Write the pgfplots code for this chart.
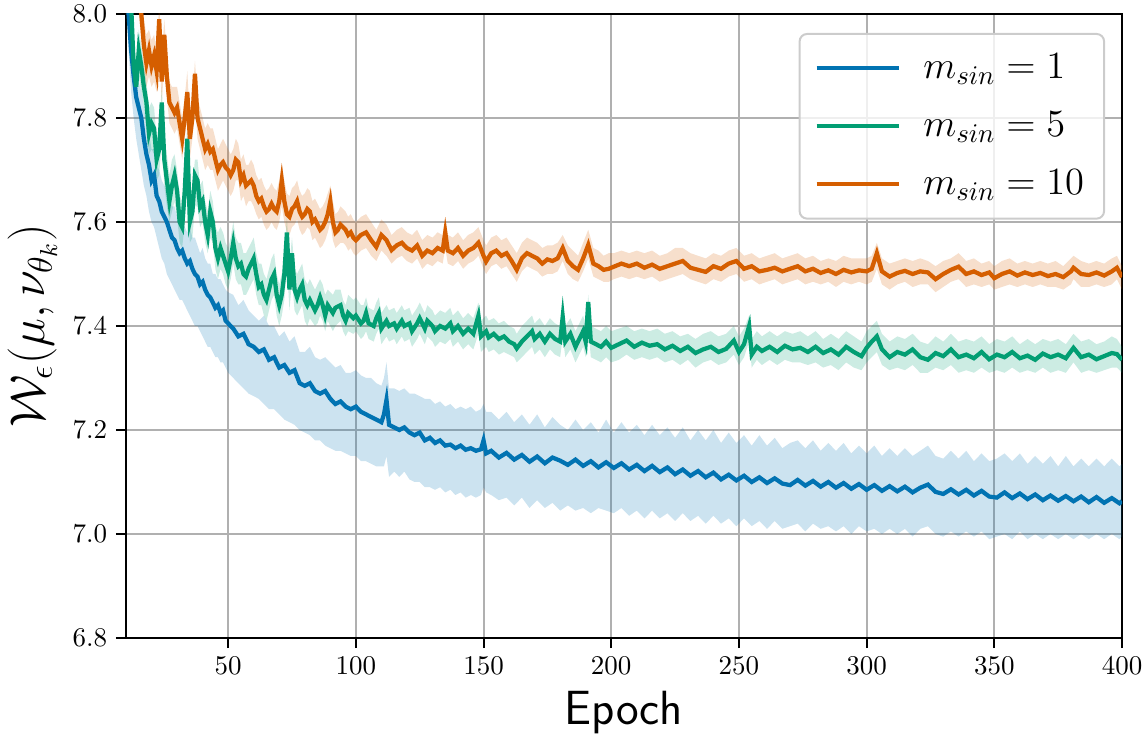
\RequirePackage{fix-cm}
\documentclass[border=0pt]{standalone}
\usepackage{pgfplots}
\pgfplotsset{compat=1.18}
\usepackage{pgfplotstable}
\usepgfplotslibrary{fillbetween}
\definecolor{cblue}{HTML}{0173B2}
\definecolor{cgreen}{HTML}{029E73}
\definecolor{corange}{HTML}{D55E00}
\definecolor{gridgray}{HTML}{B0B0B0}

\pgfplotstableread{
x m lo hi
10 8.12 8.05 8.16
11 8.00 7.93 8.05
12 7.93 7.85 7.98
13 7.88 7.80 7.93
14 7.84 7.76 7.90
15 7.82 7.73 7.87
16 7.80 7.70 7.85
17 7.76 7.67 7.82
18 7.73 7.65 7.79
19 7.71 7.62 7.77
20 7.68 7.60 7.74
21 7.69 7.59 7.74
22 7.65 7.57 7.71
23 7.64 7.55 7.70
24 7.62 7.53 7.68
25 7.61 7.52 7.67
26 7.60 7.50 7.66
27 7.585 7.49 7.65
28 7.57 7.48 7.63
29 7.565 7.47 7.63
30 7.55 7.46 7.61
31 7.54 7.45 7.60
32 7.545 7.45 7.61
33 7.53 7.44 7.59
34 7.52 7.43 7.58
35 7.525 7.42 7.59
36 7.51 7.41 7.57
37 7.50 7.40 7.57
38 7.495 7.40 7.555
39 7.48 7.39 7.54
40 7.485 7.38 7.55
41 7.47 7.37 7.53
42 7.46 7.36 7.52
43 7.455 7.36 7.52
44 7.445 7.35 7.50
45 7.435 7.34 7.50
46 7.44 7.34 7.49
47 7.425 7.33 7.49
48 7.43 7.33 7.48
49 7.41 7.32 7.47
50 7.405 7.31 7.465
52 7.395 7.30 7.46
54 7.38 7.29 7.44
56 7.385 7.28 7.45
58 7.365 7.27 7.43
60 7.36 7.265 7.42
62 7.35 7.26 7.41
64 7.355 7.25 7.42
66 7.335 7.24 7.40
68 7.34 7.24 7.40
70 7.32 7.23 7.38
72 7.325 7.22 7.39
74 7.31 7.215 7.37
76 7.315 7.21 7.38
78 7.29 7.20 7.35
80 7.285 7.195 7.35
82 7.29 7.19 7.36
84 7.275 7.18 7.34
86 7.27 7.18 7.335
88 7.275 7.17 7.34
90 7.26 7.165 7.33
92 7.25 7.16 7.32
94 7.255 7.16 7.325
96 7.245 7.155 7.31
98 7.24 7.15 7.31
100 7.245 7.15 7.315
102 7.235 7.14 7.305
104 7.23 7.14 7.30
106 7.225 7.135 7.30
108 7.22 7.13 7.29
110 7.215 7.13 7.285
111 7.23 7.13 7.30
112 7.258 7.15 7.33
113 7.21 7.11 7.28
115 7.205 7.12 7.28
117 7.20 7.11 7.275
119 7.205 7.12 7.28
121 7.195 7.105 7.27
123 7.19 7.10 7.27
125 7.195 7.10 7.265
127 7.18 7.09 7.26
129 7.185 7.09 7.26
131 7.175 7.085 7.25
133 7.18 7.09 7.255
135 7.17 7.08 7.245
137 7.172 7.085 7.25
139 7.165 7.075 7.24
141 7.17 7.08 7.245
143 7.162 7.07 7.24
145 7.165 7.075 7.245
147 7.16 7.07 7.235
149 7.163 7.075 7.24
150 7.18 7.09 7.25
151 7.155 7.08 7.235
153 7.160 7.075 7.235
156 7.147 7.065 7.22
159 7.156 7.07 7.235
162 7.143 7.055 7.215
165 7.152 7.07 7.23
168 7.139 7.05 7.21
171 7.149 7.065 7.23
174 7.136 7.05 7.205
177 7.147 7.06 7.225
180 7.141 7.045 7.21
183 7.133 7.055 7.20
186 7.143 7.045 7.22
189 7.131 7.05 7.20
192 7.140 7.04 7.215
195 7.128 7.05 7.195
198 7.138 7.045 7.22
201 7.127 7.04 7.195
204 7.136 7.05 7.215
207 7.124 7.035 7.195
210 7.133 7.045 7.21
213 7.121 7.03 7.19
216 7.131 7.045 7.21
219 7.119 7.03 7.19
222 7.128 7.04 7.205
225 7.115 7.025 7.185
228 7.124 7.04 7.205
231 7.112 7.025 7.18
234 7.121 7.035 7.20
237 7.109 7.02 7.18
240 7.118 7.035 7.20
243 7.105 7.02 7.175
246 7.114 7.03 7.195
249 7.103 7.015 7.175
252 7.112 7.03 7.19
255 7.100 7.015 7.17
258 7.109 7.025 7.19
261 7.098 7.01 7.17
264 7.107 7.025 7.185
267 7.097 7.01 7.165
270 7.094 7.015 7.175
273 7.104 7.02 7.18
276 7.093 7.005 7.165
279 7.102 7.02 7.18
282 7.091 7.01 7.16
285 7.100 7.015 7.175
288 7.089 7.005 7.16
291 7.098 7.015 7.175
294 7.087 7.00 7.155
297 7.096 7.015 7.17
300 7.085 7.005 7.155
303 7.094 7.01 7.17
306 7.083 7.00 7.15
309 7.092 7.01 7.165
312 7.082 7.00 7.15
315 7.091 7.01 7.165
318 7.080 6.995 7.15
321 7.089 7.01 7.16
324 7.095 7.015 7.17
327 7.081 7.00 7.15
330 7.077 6.995 7.145
333 7.086 7.005 7.16
336 7.076 6.995 7.145
339 7.085 7.005 7.16
342 7.074 6.995 7.14
345 7.083 7.005 7.155
348 7.072 6.99 7.14
351 7.070 6.995 7.145
354 7.080 7.00 7.155
357 7.069 6.99 7.14
360 7.078 7.005 7.155
363 7.067 6.99 7.135
366 7.076 7.00 7.15
369 7.065 6.99 7.135
372 7.074 7.00 7.15
375 7.064 6.99 7.13
378 7.073 7.00 7.15
381 7.063 6.99 7.13
384 7.072 7.00 7.145
387 7.061 6.99 7.13
390 7.071 7.00 7.145
393 7.060 6.99 7.13
396 7.069 7.00 7.145
399 7.059 6.99 7.13
400 7.063 6.995 7.135
}\tblue

\pgfplotstableread{
x m lo hi
10 8.18 8.12 8.24
11 8.10 8.04 8.16
12 8.02 7.96 8.08
13 7.90 7.85 7.95
14 7.86 7.82 7.91
15 7.93 7.88 7.97
16 7.90 7.85 7.94
17 7.86 7.82 7.90
18 7.83 7.78 7.87
19 7.77 7.73 7.82
20 7.79 7.74 7.83
21 7.78 7.73 7.82
22 7.72 7.68 7.76
23 7.74 7.69 7.78
24 7.83 7.76 7.86
25 7.72 7.67 7.76
26 7.68 7.63 7.73
27 7.64 7.60 7.69
28 7.67 7.62 7.72
29 7.69 7.64 7.73
30 7.66 7.61 7.70
31 7.60 7.56 7.65
32 7.59 7.55 7.64
33 7.66 7.60 7.70
34 7.76 7.68 7.79
35 7.60 7.56 7.65
36 7.62 7.57 7.67
37 7.69 7.63 7.72
38 7.68 7.63 7.72
39 7.63 7.59 7.67
40 7.64 7.60 7.68
41 7.60 7.56 7.64
42 7.575 7.54 7.62
43 7.62 7.57 7.66
44 7.60 7.56 7.64
45 7.55 7.51 7.59
46 7.53 7.49 7.58
47 7.55 7.51 7.59
48 7.535 7.50 7.58
49 7.52 7.48 7.56
50 7.505 7.47 7.55
51 7.53 7.49 7.57
52 7.56 7.52 7.60
53 7.53 7.49 7.57
54 7.515 7.48 7.56
55 7.52 7.48 7.56
56 7.50 7.46 7.54
57 7.495 7.46 7.54
58 7.51 7.47 7.55
59 7.52 7.48 7.56
60 7.53 7.49 7.57
61 7.50 7.46 7.54
62 7.475 7.44 7.52
63 7.48 7.44 7.52
64 7.46 7.42 7.50
65 7.45 7.41 7.49
66 7.47 7.43 7.51
67 7.49 7.45 7.53
68 7.50 7.46 7.54
69 7.46 7.42 7.50
70 7.44 7.40 7.48
71 7.46 7.42 7.50
72 7.50 7.45 7.54
73 7.58 7.52 7.61
74 7.47 7.43 7.52
75 7.54 7.49 7.57
76 7.47 7.43 7.51
77 7.455 7.42 7.50
78 7.47 7.43 7.51
79 7.48 7.44 7.52
80 7.45 7.41 7.49
81 7.44 7.40 7.48
82 7.45 7.415 7.49
84 7.43 7.40 7.47
85 7.44 7.405 7.48
86 7.455 7.42 7.49
87 7.44 7.41 7.48
88 7.42 7.39 7.46
89 7.44 7.41 7.47
91 7.425 7.39 7.46
92 7.435 7.40 7.47
94 7.44 7.41 7.47
95 7.42 7.39 7.45
96 7.41 7.38 7.44
97 7.425 7.39 7.46
99 7.415 7.385 7.45
100 7.42 7.39 7.455
102 7.405 7.375 7.44
103 7.41 7.38 7.44
104 7.425 7.39 7.455
105 7.405 7.375 7.435
107 7.40 7.37 7.43
108 7.415 7.385 7.445
109 7.425 7.395 7.455
110 7.395 7.365 7.425
112 7.41 7.38 7.44
113 7.40 7.37 7.43
115 7.405 7.375 7.435
116 7.395 7.365 7.425
118 7.41 7.38 7.44
119 7.40 7.37 7.43
121 7.405 7.375 7.435
122 7.39 7.36 7.42
124 7.405 7.375 7.435
125 7.415 7.385 7.445
127 7.395 7.365 7.425
128 7.41 7.38 7.44
130 7.40 7.37 7.43
131 7.39 7.36 7.42
133 7.40 7.37 7.43
135 7.395 7.365 7.425
137 7.405 7.375 7.435
138 7.39 7.36 7.42
140 7.40 7.37 7.43
142 7.385 7.355 7.415
144 7.395 7.365 7.425
146 7.385 7.355 7.415
148 7.42 7.385 7.445
149 7.38 7.35 7.41
151 7.39 7.36 7.42
152 7.378 7.35 7.41
154 7.385 7.355 7.415
156 7.375 7.345 7.405
158 7.38 7.35 7.41
160 7.37 7.345 7.40
162 7.365 7.34 7.395
163 7.357 7.33 7.385
165 7.37 7.34 7.40
167 7.38 7.35 7.41
169 7.39 7.36 7.42
170 7.375 7.345 7.405
172 7.385 7.355 7.415
174 7.37 7.34 7.40
176 7.385 7.355 7.415
178 7.375 7.345 7.405
180 7.37 7.34 7.40
181 7.418 7.38 7.44
182 7.37 7.34 7.40
184 7.385 7.355 7.415
186 7.36 7.33 7.39
188 7.38 7.35 7.41
189 7.39 7.36 7.42
190 7.37 7.34 7.40
191 7.446 7.40 7.46
192 7.37 7.34 7.40
194 7.365 7.335 7.395
196 7.36 7.33 7.39
198 7.37 7.34 7.40
200 7.358 7.33 7.39
203 7.365 7.335 7.395
206 7.372 7.345 7.40
209 7.36 7.335 7.39
212 7.368 7.34 7.395
215 7.362 7.335 7.39
218 7.365 7.34 7.395
221 7.355 7.33 7.385
224 7.362 7.335 7.39
227 7.352 7.325 7.38
230 7.36 7.335 7.385
233 7.348 7.32 7.375
236 7.355 7.33 7.385
239 7.36 7.335 7.39
242 7.35 7.325 7.38
245 7.356 7.33 7.385
248 7.372 7.345 7.40
250 7.35 7.325 7.38
252 7.365 7.34 7.395
254 7.40 7.37 7.42
255 7.345 7.32 7.375
257 7.36 7.335 7.39
259 7.352 7.325 7.38
262 7.36 7.335 7.39
265 7.35 7.325 7.38
268 7.362 7.335 7.39
271 7.355 7.33 7.385
274 7.358 7.33 7.39
277 7.35 7.325 7.38
280 7.36 7.33 7.39
283 7.348 7.32 7.375
286 7.355 7.325 7.385
289 7.345 7.315 7.375
292 7.36 7.33 7.39
295 7.35 7.32 7.38
298 7.342 7.315 7.37
300 7.358 7.33 7.39
302 7.37 7.34 7.40
304 7.38 7.35 7.41
306 7.355 7.325 7.385
309 7.34 7.315 7.37
312 7.35 7.32 7.38
315 7.345 7.315 7.375
318 7.355 7.325 7.385
321 7.34 7.31 7.37
324 7.335 7.31 7.365
327 7.348 7.32 7.38
330 7.342 7.315 7.37
333 7.355 7.325 7.385
336 7.34 7.31 7.37
339 7.345 7.315 7.375
342 7.338 7.31 7.37
345 7.35 7.32 7.38
348 7.336 7.31 7.365
351 7.345 7.315 7.375
354 7.34 7.31 7.37
357 7.35 7.32 7.38
360 7.338 7.31 7.365
363 7.343 7.315 7.375
366 7.335 7.31 7.365
369 7.347 7.32 7.375
372 7.34 7.31 7.37
375 7.345 7.315 7.375
378 7.338 7.31 7.365
381 7.358 7.33 7.385
384 7.34 7.31 7.37
387 7.345 7.315 7.375
390 7.336 7.31 7.365
393 7.342 7.315 7.37
396 7.348 7.32 7.38
398 7.346 7.32 7.375
400 7.335 7.31 7.36
}\tgreen

\pgfplotstableread{
x m lo hi
10 8.40 8.34 8.46
12 8.25 8.19 8.31
14 8.12 8.07 8.18
15 8.05 8.00 8.10
16 8.00 7.95 8.05
17 7.94 7.89 7.99
18 7.905 7.86 7.96
19 7.93 7.88 7.97
20 7.90 7.86 7.95
21 7.92 7.87 7.96
22 7.89 7.85 7.93
23 7.99 7.93 8.02
24 7.87 7.83 7.92
25 7.96 7.90 7.99
26 7.88 7.84 7.92
27 7.83 7.79 7.87
28 7.82 7.78 7.86
29 7.81 7.77 7.86
30 7.82 7.78 7.86
31 7.79 7.75 7.83
32 7.76 7.72 7.80
33 7.80 7.76 7.84
34 7.85 7.80 7.89
35 7.76 7.72 7.80
36 7.80 7.76 7.84
37 7.885 7.83 7.91
38 7.80 7.76 7.84
39 7.78 7.74 7.82
40 7.76 7.72 7.80
41 7.74 7.70 7.78
42 7.75 7.71 7.79
43 7.735 7.70 7.78
44 7.74 7.70 7.78
45 7.72 7.68 7.76
46 7.70 7.66 7.74
47 7.71 7.67 7.75
48 7.715 7.68 7.76
49 7.705 7.67 7.75
50 7.70 7.66 7.74
51 7.69 7.65 7.73
52 7.70 7.66 7.74
53 7.72 7.68 7.76
54 7.715 7.68 7.75
55 7.68 7.64 7.72
56 7.69 7.65 7.73
57 7.67 7.63 7.71
58 7.675 7.64 7.71
59 7.68 7.64 7.72
60 7.67 7.63 7.71
61 7.65 7.615 7.69
62 7.64 7.605 7.68
63 7.645 7.61 7.685
64 7.63 7.595 7.67
65 7.62 7.585 7.66
66 7.625 7.59 7.665
67 7.635 7.60 7.675
68 7.625 7.59 7.665
69 7.62 7.585 7.66
70 7.64 7.60 7.68
71 7.68 7.63 7.71
72 7.64 7.60 7.68
73 7.615 7.58 7.655
74 7.61 7.575 7.65
75 7.625 7.59 7.665
76 7.63 7.595 7.67
77 7.64 7.605 7.68
78 7.62 7.585 7.66
79 7.61 7.575 7.65
80 7.615 7.58 7.655
81 7.625 7.59 7.665
82 7.62 7.585 7.66
83 7.60 7.565 7.64
84 7.605 7.57 7.645
85 7.595 7.56 7.635
86 7.585 7.55 7.625
87 7.59 7.555 7.63
88 7.60 7.565 7.64
89 7.615 7.58 7.655
90 7.64 7.60 7.67
91 7.60 7.565 7.64
92 7.58 7.55 7.615
93 7.585 7.555 7.62
94 7.595 7.56 7.63
95 7.59 7.56 7.625
96 7.585 7.555 7.62
97 7.575 7.545 7.61
98 7.58 7.55 7.615
99 7.57 7.54 7.605
100 7.565 7.535 7.60
102 7.575 7.545 7.61
104 7.58 7.55 7.615
106 7.565 7.535 7.60
108 7.552 7.525 7.585
110 7.575 7.545 7.605
112 7.565 7.535 7.595
114 7.546 7.52 7.575
116 7.555 7.53 7.585
118 7.56 7.535 7.59
120 7.55 7.525 7.58
122 7.545 7.52 7.575
124 7.555 7.53 7.585
126 7.535 7.51 7.565
128 7.545 7.52 7.575
130 7.54 7.515 7.57
132 7.55 7.525 7.58
134 7.545 7.52 7.575
135 7.58 7.55 7.61
136 7.545 7.52 7.575
138 7.54 7.515 7.57
140 7.55 7.525 7.58
142 7.535 7.51 7.565
144 7.545 7.52 7.575
146 7.55 7.525 7.58
148 7.56 7.535 7.59
150 7.535 7.51 7.565
151 7.524 7.50 7.555
153 7.54 7.515 7.57
155 7.545 7.52 7.575
157 7.535 7.51 7.565
159 7.54 7.515 7.57
161 7.525 7.50 7.555
163 7.508 7.485 7.54
165 7.53 7.505 7.56
167 7.54 7.515 7.57
169 7.535 7.51 7.565
171 7.53 7.505 7.56
173 7.52 7.495 7.55
175 7.528 7.50 7.555
177 7.525 7.50 7.555
179 7.53 7.505 7.56
181 7.55 7.525 7.575
183 7.525 7.50 7.555
185 7.515 7.49 7.545
187 7.508 7.485 7.535
189 7.53 7.505 7.56
191 7.556 7.53 7.585
193 7.52 7.495 7.55
195 7.515 7.49 7.545
197 7.508 7.485 7.535
199 7.51 7.485 7.54
201 7.514 7.49 7.54
204 7.52 7.495 7.545
207 7.515 7.49 7.54
210 7.52 7.495 7.545
213 7.512 7.49 7.54
216 7.518 7.495 7.545
219 7.51 7.485 7.535
222 7.515 7.49 7.54
225 7.52 7.495 7.55
228 7.525 7.50 7.55
231 7.512 7.49 7.54
234 7.508 7.485 7.535
237 7.504 7.48 7.53
240 7.515 7.49 7.54
243 7.51 7.485 7.535
246 7.52 7.495 7.545
249 7.525 7.50 7.55
252 7.51 7.485 7.535
255 7.515 7.49 7.54
258 7.505 7.48 7.53
261 7.508 7.485 7.535
264 7.512 7.49 7.54
267 7.505 7.48 7.53
270 7.51 7.485 7.535
273 7.515 7.49 7.54
276 7.505 7.48 7.53
279 7.51 7.485 7.535
282 7.502 7.48 7.525
285 7.507 7.485 7.53
288 7.50 7.475 7.525
291 7.508 7.485 7.535
294 7.503 7.48 7.53
297 7.507 7.485 7.53
300 7.505 7.48 7.53
302 7.51 7.485 7.535
304 7.54 7.51 7.56
306 7.505 7.48 7.53
309 7.495 7.47 7.52
312 7.502 7.48 7.525
315 7.506 7.485 7.53
318 7.50 7.475 7.525
321 7.505 7.48 7.53
324 7.503 7.48 7.525
327 7.49 7.465 7.515
330 7.50 7.475 7.525
333 7.508 7.485 7.53
336 7.514 7.49 7.54
339 7.50 7.475 7.525
342 7.505 7.48 7.53
345 7.498 7.475 7.52
348 7.503 7.48 7.525
350 7.492 7.47 7.515
353 7.50 7.475 7.525
356 7.505 7.48 7.53
359 7.497 7.475 7.52
362 7.503 7.48 7.525
365 7.498 7.475 7.52
368 7.502 7.48 7.525
371 7.496 7.475 7.52
374 7.50 7.475 7.525
377 7.494 7.47 7.515
380 7.505 7.48 7.53
381 7.512 7.49 7.535
384 7.50 7.475 7.525
387 7.498 7.475 7.52
390 7.503 7.48 7.525
393 7.497 7.475 7.52
396 7.505 7.48 7.53
398 7.512 7.49 7.535
400 7.494 7.47 7.515
}\torange

\begin{document}
\begin{tikzpicture}
\begin{axis}[
  scale only axis,
  width=398.4pt, height=249.6pt,
  xmin=10, xmax=400, ymin=6.8, ymax=8.0,
  xtick={50,100,150,200,250,300,350,400},
  ytick={6.8,7.0,7.2,7.4,7.6,7.8,8.0},
  yticklabel style={/pgf/number format/.cd, fixed, fixed zerofill, precision=1},
  ticklabel style={font=\fontsize{10.8}{13}\selectfont},
  xtick pos=bottom, ytick pos=left,
  tick align=outside,
  major tick length=4pt,
  tick style={black, line width=0.8pt},
  axis line style={black, line width=1pt},
  grid=major,
  major grid style={gridgray, line width=0.8pt},
  xlabel={Epoch},
  xlabel style={font=\fontsize{19.2}{23}\selectfont\sffamily, at={(axis description cs:0.5,-0.139)}, anchor=base},
  ylabel={$\mathcal{W}_\epsilon(\mu, \nu_{\theta_k})$},
  ylabel style={font=\fontsize{19.6}{23}\selectfont, at={(axis description cs:-0.094,0.5)}, anchor=center, inner sep=0pt},
  legend style={at={(axis description cs:0.983,0.9696)}, anchor=north east,
    draw=black!20, line width=0.8pt, rounded corners=3pt,
    fill=white, fill opacity=0.8, text opacity=1,
    font=\fontsize{15.4}{18}\selectfont,
    inner xsep=6pt, inner ysep=6pt, row sep=7.8pt,
    /tikz/every odd column/.append style={column sep=7pt}},
  legend cell align=left,
  legend image code/.code={\draw[#1, line width=1.7pt] (0pt,0pt) -- (32.8pt,0pt);},
]
\coordinate (BL) at (rel axis cs:0,0);
\coordinate (TR) at (rel axis cs:1,1);

\addplot[name path=bU, draw=none, forget plot] table[x=x,y=hi]{\tblue};
\addplot[name path=bL, draw=none, forget plot] table[x=x,y=lo]{\tblue};
\addplot[fill=cblue, fill opacity=0.2, draw=none, forget plot] fill between[of=bU and bL];
\addplot[name path=gU, draw=none, forget plot] table[x=x,y=hi]{\tgreen};
\addplot[name path=gL, draw=none, forget plot] table[x=x,y=lo]{\tgreen};
\addplot[fill=cgreen, fill opacity=0.2, draw=none, forget plot] fill between[of=gU and gL];
\addplot[name path=oU, draw=none, forget plot] table[x=x,y=hi]{\torange};
\addplot[name path=oL, draw=none, forget plot] table[x=x,y=lo]{\torange};
\addplot[fill=corange, fill opacity=0.2, draw=none, forget plot] fill between[of=oU and oL];

\addplot[cblue, line width=1.7pt] table[x=x,y=m]{\tblue};
\addlegendentry{$m_{sin} = 1$}
\addplot[cgreen, line width=1.7pt] table[x=x,y=m]{\tgreen};
\addlegendentry{$m_{sin} = 5$}
\addplot[corange, line width=1.7pt] table[x=x,y=m]{\torange};
\addlegendentry{$m_{sin} = 10$}
\end{axis}
\pgfresetboundingbox
\path[use as bounding box] ([xshift=-50.4pt,yshift=-44pt]BL) rectangle ([xshift=10.4pt,yshift=5.6pt]TR);
\end{tikzpicture}
\end{document}
